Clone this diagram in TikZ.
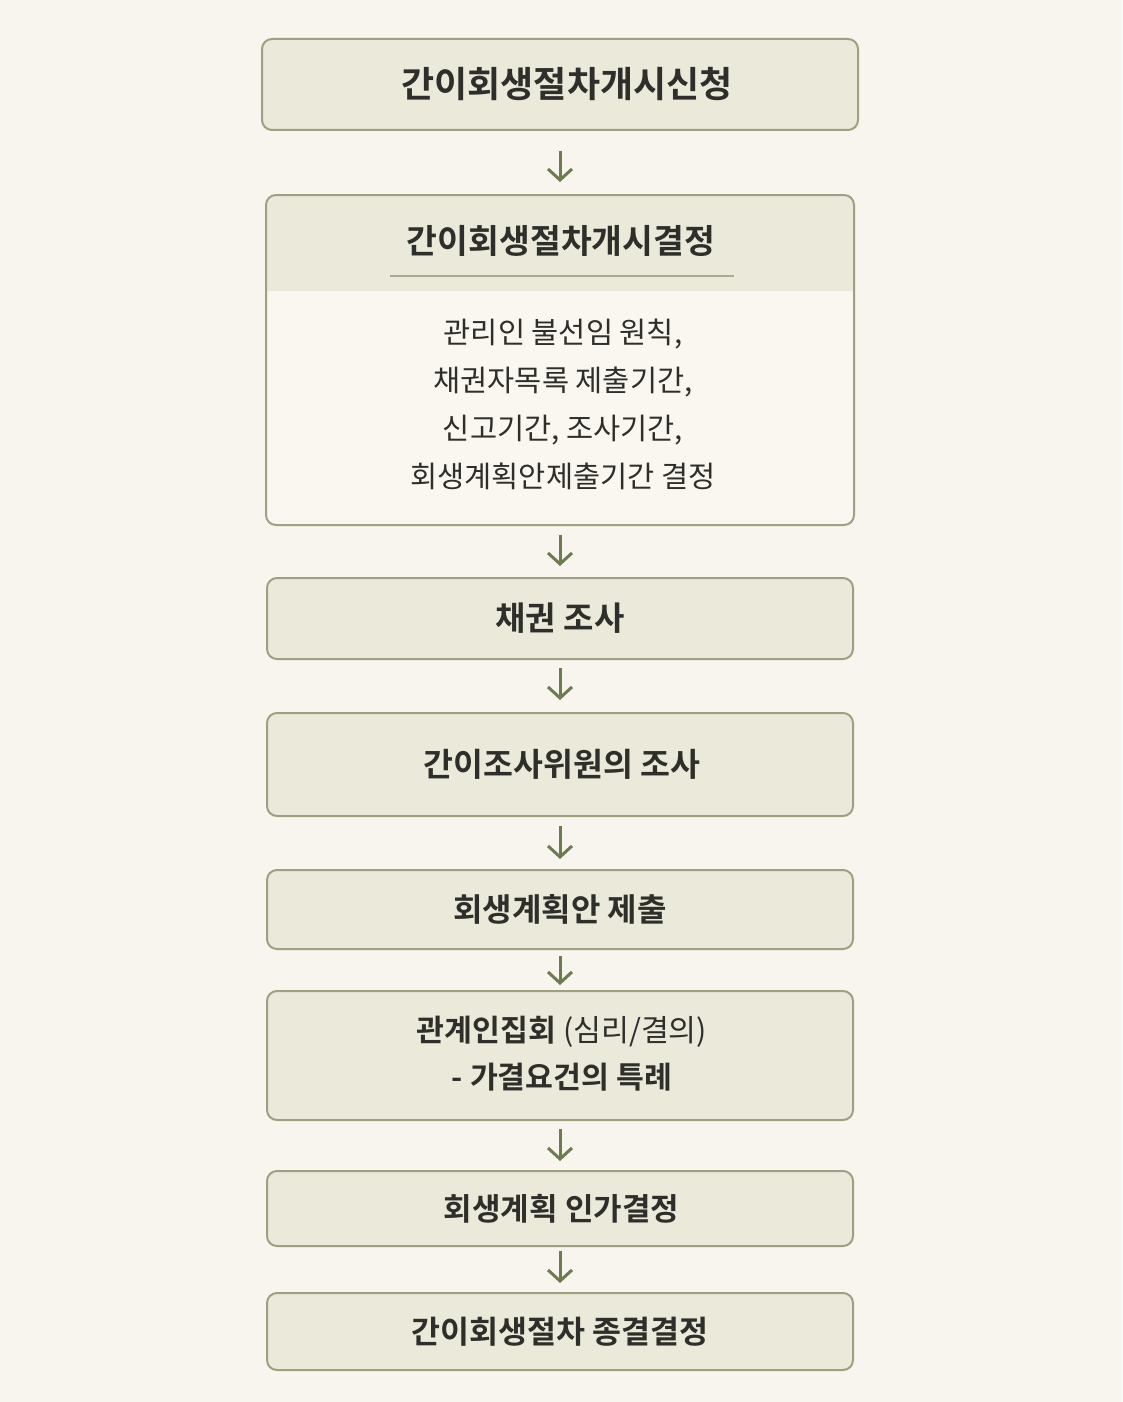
\documentclass[tikz,border=0pt]{standalone}
\usepackage{fontspec}
\setmainfont{Noto Sans CJK KR}[BoldFont={Noto Sans CJK KR Bold}]
\usetikzlibrary{arrows.meta}
\definecolor{bgc}{HTML}{F8F5EE}
\definecolor{boxfill}{HTML}{EBE9DA}
\definecolor{bodyfill}{HTML}{FAF7F0}
\definecolor{edgec}{HTML}{9CA181}
\definecolor{arrowc}{HTML}{6E7A52}
\definecolor{txt}{HTML}{2E2E2A}
\definecolor{sepc}{HTML}{A8AB90}
\tikzset{
  box/.style={draw=edgec, line width=2pt, rounded corners=10pt, fill=boxfill, minimum width=586pt, inner sep=0pt, text=txt, font=\fontsize{32}{38}\selectfont\bfseries},
  flowarrow/.style={draw=arrowc, line width=3pt, -{Straight Barb[length=11pt,width=24pt,line width=3pt]}},
  bodytext/.style={text=txt, font=\fontsize{29.5}{48}\selectfont, align=center, inner sep=0pt},
}
\begin{document}
\begin{tikzpicture}[x=1pt,y=-1pt]
\fill[bgc] (0,0) rectangle (1122,1402);
\useasboundingbox (0,0) rectangle (1122,1402);
% box 1
\node[box, minimum width=596pt, minimum height=91pt] (b1) at (560,84.5) {};
\node[text=txt, inner sep=0pt, font=\fontsize{36}{42}\selectfont\bfseries] (b1t) at (567,84.5) {간이회생절차개시신청};
% box 2
\node[box, fill=bodyfill, draw=none, minimum height=328pt] (b2) at (560,360) {};
\fill[boxfill] (b2.west |- 0,291) {[rounded corners=10pt] -- (b2.north west) -- (b2.north east)} -- (b2.east |- 0,291) -- cycle;
\draw[edgec, line width=2pt, rounded corners=10pt] (b2.north west) rectangle (b2.south east);
\node[text=txt, font=\fontsize{33.5}{38}\selectfont\bfseries, inner sep=0pt] (b2t) at (561,241) {간이회생절차개시결정};
\coordinate (sepl) at (390,276);
\coordinate (sepr) at (734,276);
\draw[sepc, line width=1.5pt] (sepl) -- (sepr);
\node[bodytext] (b2b) at (563,404) {관리인 불선임 원칙,\\채권자목록 제출기간,\\신고기간, 조사기간,\\회생계획안제출기간 결정};
% box 3
\node[box, minimum height=81pt, font=\fontsize{33}{38}\selectfont\bfseries] (b3) at (560,618.5) {채권 조사};
% box 4
\node[box, minimum height=103pt] (b4) at (560,764.5) {};
\node[text=txt, inner sep=0pt, font=\fontsize{32.5}{38}\selectfont\bfseries] (b4t) at (562,764.5) {간이조사위원의 조사};
% box 5
\node[box, minimum height=79pt] (b5) at (560,909.5) {회생계획안 제출};
% box 6
\node[box, minimum height=129pt] (b6) at (560,1055.5) {};
\node[text=txt, font=\fontsize{30.3}{47}\selectfont, align=center, inner sep=0pt] (b6t) at (562,1054) {{\bfseries 관계인집회} (심리/결의)\\{\bfseries - 가결요건의 특례}};
% box 7
\node[box, minimum height=75pt] (b7) at (560,1208.5) {};
\node[text=txt, inner sep=0pt, font=\fontsize{31}{38}\selectfont\bfseries] (b7t) at (561.5,1208.5) {회생계획 인가결정};
% box 8
\node[box, minimum height=77pt, font=\fontsize{31.5}{38}\selectfont\bfseries] (b8) at (560,1331.5) {간이회생절차 종결결정};
% arrows
\draw[flowarrow, shorten <=20pt, shorten >=13pt] (b1) -- (b2);
\draw[flowarrow, shorten <=10pt, shorten >=11pt] (b2) -- (b3);
\draw[flowarrow, shorten <=8pt, shorten >=12pt] (b3) -- (b4);
\draw[flowarrow, shorten <=9pt, shorten >=10pt] (b4) -- (b5);
\draw[flowarrow, shorten <=6pt, shorten >=5pt] (b5) -- (b6);
\draw[flowarrow, shorten <=8pt, shorten >=9pt] (b6) -- (b7);
\draw[flowarrow, shorten <=4pt, shorten >=9pt] (b7) -- (b8);
\end{tikzpicture}
\end{document}
